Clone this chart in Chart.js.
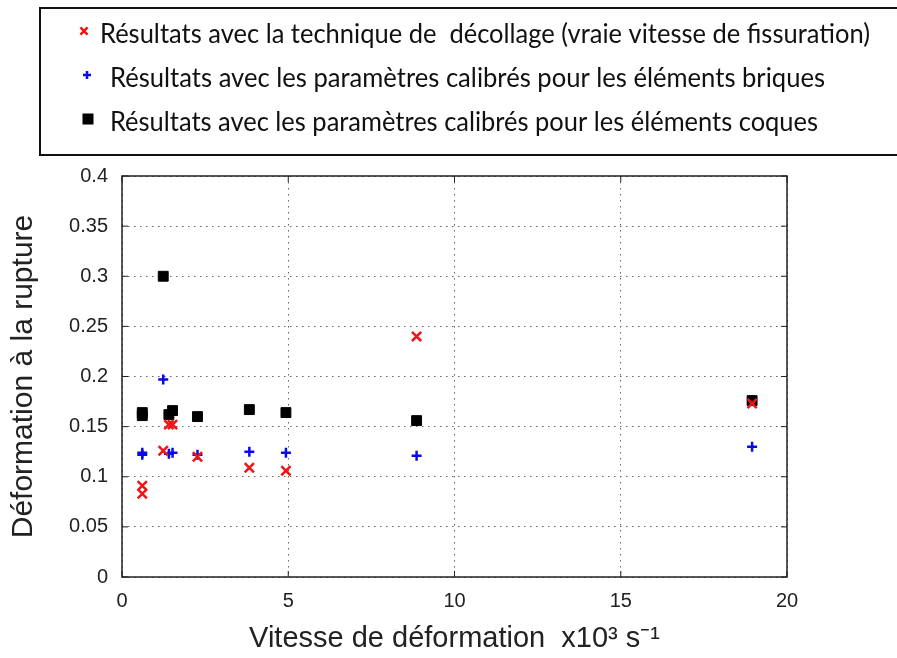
<!DOCTYPE html>
<html>
<head>
<meta charset="utf-8">
<script src="https://cdn.jsdelivr.net/npm/chart.js@4/dist/chart.umd.min.js"></script>
<style>
  html, body { margin: 0; padding: 0; background: #fff; }
  #wrap { width: 897px; height: 658px; }
</style>
</head>
<body>
<div id="wrap"><canvas id="mychart" width="897" height="658"></canvas></div>
<script>
// strain rate (x10^3 s^-1) for each test
const vitesse = [0.61, 0.61, 1.24, 1.41, 1.52, 2.27, 3.83, 4.93, 8.86, 18.95];
// failure strain per method
const decollage = [0.091, 0.083, 0.126, 0.152, 0.152, 0.120, 0.109, 0.106, 0.240, 0.173];
const briques = [0.122, 0.124, 0.197, 0.123, 0.124, 0.122, 0.125, 0.124, 0.121, 0.130];
const coques = [0.164, 0.161, 0.300, 0.162, 0.166, 0.160, 0.167, 0.164, 0.156, 0.176];
const xTicks = [0, 5, 10, 15, 20];
const yTicks = [0, 0.05, 0.1, 0.15, 0.2, 0.25, 0.3, 0.35, 0.4];

const legendLabels = [
  'Résultats avec la technique de  décollage (vraie vitesse de fissuration)',
  'Résultats avec les paramètres calibrés pour les éléments briques',
  'Résultats avec les paramètres calibrés pour les éléments coques'
];

const pts = ys => vitesse.map((x, i) => ({x: x, y: ys[i]}));
const axisFont = "'Liberation Sans', Arial, sans-serif";

// box around the plot plus inward tick marks (matlab look)
const frame = {
  id: 'frame',
  afterDraw(chart) {
    const {ctx, chartArea: a, scales} = chart;
    ctx.save();
    ctx.strokeStyle = '#222';
    ctx.lineWidth = 1.5;
    ctx.strokeRect(a.left, a.top, a.right - a.left, a.bottom - a.top);
    ctx.lineWidth = 1;
    ctx.beginPath();
    xTicks.forEach(v => {
      const px = scales.x.getPixelForValue(v);
      ctx.moveTo(px, a.bottom); ctx.lineTo(px, a.bottom - 6);
      ctx.moveTo(px, a.top); ctx.lineTo(px, a.top + 6);
    });
    yTicks.forEach(v => {
      const py = scales.y.getPixelForValue(v);
      ctx.moveTo(a.left, py); ctx.lineTo(a.left + 6, py);
      ctx.moveTo(a.right, py); ctx.lineTo(a.right - 6, py);
    });
    ctx.stroke();
    ctx.restore();
  }
};

// text box legend above the plot
const legendBox = {
  id: 'legendBox',
  afterDraw(chart) {
    const ctx = chart.ctx;
    ctx.save();
    ctx.strokeStyle = '#111';
    ctx.lineWidth = 2;
    ctx.strokeRect(40, 8, 880, 147);
    const rows = [
      {y: 35, mx: 84, tx: 100, w: 770},
      {y: 79, mx: 87, tx: 110, w: 715},
      {y: 123, mx: 88, tx: 110, w: 708}
    ];
    const sizes = [5, 4, 6];
    ctx.font = "26px Lato, 'Noto Sans', sans-serif";
    ctx.textBaseline = 'middle';
    chart.data.datasets.forEach((ds, i) => {
      const r = rows[i];
      ctx.strokeStyle = ds.borderColor;
      ctx.fillStyle = ds.backgroundColor;
      ctx.lineWidth = 2.5;
      Chart.helpers.drawPoint(ctx, {pointStyle: ds.pointStyle, radius: sizes[i], borderWidth: 2.5}, r.mx, r.y - 4);
      ctx.fillStyle = '#111';
      ctx.fillText(legendLabels[i], r.tx, r.y, r.w);
    });
    ctx.restore();
  }
};

let myChart = document.getElementById('mychart').getContext('2d');
let scatter = new Chart(myChart, {
  type: 'scatter',
  data: {
    datasets: [
      {label: legendLabels[0], data: pts(decollage), pointStyle: 'crossRot',
        radius: 6.5, borderWidth: 2.5, borderColor: 'rgb(240,20,20)', backgroundColor: 'rgb(240,20,20)'},
      {label: legendLabels[1], data: pts(briques), pointStyle: 'cross',
        radius: 5, borderWidth: 2.5, borderColor: 'rgb(10,10,230)', backgroundColor: 'rgb(10,10,230)'},
      {label: legendLabels[2], data: pts(coques), pointStyle: 'rect',
        radius: 7, borderWidth: 1, borderColor: '#000', backgroundColor: '#000'}
    ]
  },
  options: {
    responsive: false,
    animation: false,
    layout: {padding: {left: 0, right: 110, top: 176, bottom: 0}},
    scales: {
      x: {
        type: 'linear', min: 0, max: 20,
        afterBuildTicks: s => { s.ticks = xTicks.map(v => ({value: v})); },
        afterFit: s => { s.height = 81; },
        grid: {color: '#666', lineWidth: 1, drawTicks: false},
        border: {display: false, dash: [1.5, 4.5]},
        ticks: {color: '#222', padding: 12, font: {family: axisFont, size: 20}},
        title: {display: true, text: 'Vitesse de déformation  x10³ s⁻¹', color: '#222',
          padding: {top: 0, bottom: 2}, font: {family: axisFont, size: 29}}
      },
      y: {
        type: 'linear', min: 0, max: 0.4,
        afterBuildTicks: s => { s.ticks = yTicks.map(v => ({value: v})); },
        afterFit: s => { s.width = 122; },
        grid: {color: '#666', lineWidth: 1, drawTicks: false},
        border: {display: false, dash: [1.5, 4.5]},
        ticks: {color: '#222', padding: 14, font: {family: axisFont, size: 20},
          callback: v => String(Number(v.toFixed(2)))},
        title: {display: true, text: 'Déformation à la rupture', color: '#222',
          padding: {top: 6, bottom: 0}, font: {family: axisFont, size: 30}}
      }
    },
    plugins: {
      legend: {display: false},
      tooltip: {enabled: false}
    }
  },
  plugins: [frame, legendBox]
});
</script>
</body>
</html>
